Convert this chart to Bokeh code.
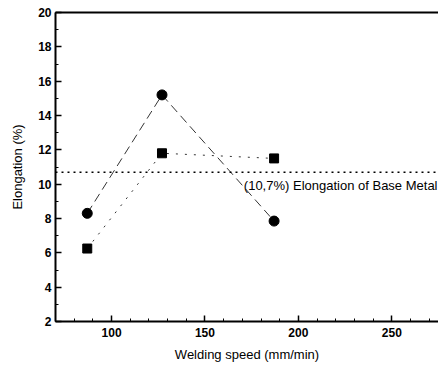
from bokeh.plotting import figure
from bokeh.models import Range1d, LinearAxis, Span, Label, FixedTicker, ColumnDataSource
from bokeh.embed import file_html
from bokeh.resources import INLINE

speed = [87, 127, 187]
elong_circle = [8.3, 15.2, 7.85]
elong_square = [6.25, 11.8, 11.5]
base_metal = 10.7
base_label = "(10,7%) Elongation of Base Metal"
x_title = "Welding speed (mm/min)"
y_title = "Elongation (%)"
x_major = [100, 150, 200, 250]
x_minor = list(range(70, 280, 10))
y_major = [2, 4, 6, 8, 10, 12, 14, 16, 18, 20]
y_minor = list(range(2, 21, 1))

FONT = "Liberation Sans"

p = figure(width=438, height=371, output_backend="svg", toolbar_location=None,
           x_range=Range1d(70, 275), y_range=Range1d(2, 20),
           x_axis_location=None, y_axis_location=None,
           min_border_left=55, min_border_right=0, min_border_top=12, min_border_bottom=50)
p.outline_line_color = None
p.grid.visible = False
p.background_fill_color = "white"
p.border_fill_color = "white"

def style_axis(ax, major, minor):
    ax.ticker = FixedTicker(ticks=major, minor_ticks=minor)
    ax.axis_line_color = "black"
    ax.axis_line_width = 2
    ax.major_tick_in = 6
    ax.major_tick_out = 0
    ax.minor_tick_in = 3
    ax.minor_tick_out = 0
    ax.major_tick_line_width = 1.5
    ax.minor_tick_line_width = 1
    ax.major_label_text_font = FONT
    ax.major_label_text_font_size = "12px"
    ax.major_label_text_font_style = "bold"
    ax.major_label_text_color = "black"
    ax.axis_label_text_font = FONT
    ax.axis_label_text_font_size = "13px"
    ax.axis_label_text_font_style = "normal"
    ax.axis_label_text_color = "black"

xa = LinearAxis(axis_label=x_title)
style_axis(xa, x_major, x_minor)
xa.major_label_standoff = 6
xa.axis_label_standoff = 7
p.add_layout(xa, "below")

ya = LinearAxis(axis_label=y_title)
style_axis(ya, y_major, y_minor)
ya.major_label_standoff = 4
ya.axis_label_standoff = 10
p.add_layout(ya, "left")

top = LinearAxis(major_tick_in=0, major_tick_out=0, minor_tick_in=0, minor_tick_out=0,
                 major_label_text_font_size="0px", axis_line_width=2, axis_line_color="black")
top.ticker = FixedTicker(ticks=[])
p.add_layout(top, "above")

p.add_layout(Span(location=base_metal, dimension="width", line_color="black",
                  line_width=1.5, line_dash="2 4"))
p.add_layout(Label(x=275, y=base_metal, text=base_label, text_font=FONT,
                   text_font_size="13px", text_color="black", text_align="right",
                   text_baseline="top", y_offset=-6, x_offset=-1))

src = ColumnDataSource(dict(x=speed, c=elong_circle, s=elong_square))
p.line("x", "c", source=src, line_color="black", line_width=0.8, line_dash="9 5")
p.line("x", "s", source=src, line_color="black", line_width=0.8, line_dash="2 7")
p.scatter("x", "c", source=src, marker="circle", size=10, fill_color="black", line_color="black")
p.scatter("x", "s", source=src, marker="square", size=9, fill_color="black", line_color="black")

open("out.html", "w").write(file_html(p, INLINE))
